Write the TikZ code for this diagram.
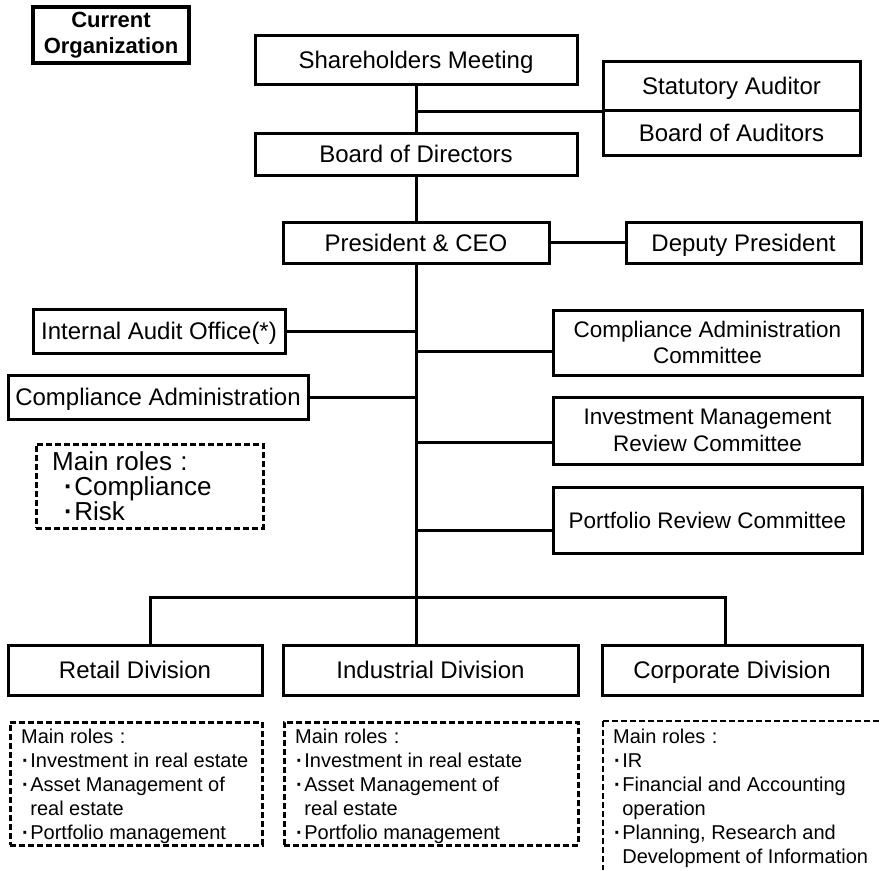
\documentclass[tikz,border=0pt]{standalone}
\usepackage{fontspec}
\setmainfont{Liberation Sans}
\usepackage{tikz}
\usetikzlibrary{calc}
\newcommand{\bul}{\hbox{\kern1pt{\bfseries·}\kern1.5pt}}
\newcommand{\ind}{\hphantom{\bul}}
\newcommand{\roles}{Main roles\kern0.32em:}

\begin{document}
\begin{tikzpicture}[x=1pt, y=-1pt,
  boxbase/.style={draw, line width=3pt, inner sep=0pt, align=center},
  orgbox/.style={boxbase, font=\fontsize{24}{27}\selectfont, text height=17.2pt, text depth=0pt},
  combox/.style={boxbase, font=\fontsize{22.5}{26.5}\selectfont},
  rolebox/.style={draw, line width=2.8pt, dash pattern=on 6pt off 3pt, inner sep=0pt},
  roletext/.style={align=left, inner xsep=12pt, inner ysep=8pt,
    font=\fontsize{20}{24}\selectfont},
  link/.style={line width=3pt}]

\useasboundingbox (0,0) rectangle (882,870);

  % title
\node[boxbase, line width=4.5pt, font=\bfseries\fontsize{22}{26}\selectfont,
  minimum width=156, minimum height=56] (curorg) at (111,35) {Current\\Organization};

  % top of the tree
\node[orgbox, minimum width=322, minimum height=49] (share) at (416,59.5) {Shareholders Meeting};
\node[orgbox, minimum width=257, minimum height=49] (stat) at (731.5,85.5) {Statutory Auditor};
\node[orgbox, minimum width=257, minimum height=45] (boa) at (731.5,132.5) {Board of Auditors};
\node[orgbox, minimum width=322, minimum height=42] (bod) at (416,154) {Board of Directors};
\node[orgbox, minimum width=266, minimum height=41] (ceo) at (416,242.5) {President \& CEO};
\node[orgbox, minimum width=235, minimum height=41] (deputy) at (743.5,242.5) {Deputy President};

  % offices and committees
\node[orgbox, minimum width=252, minimum height=44] (iao) at (159,331) {Internal Audit Office(*)};
\node[orgbox, minimum width=300, minimum height=44] (cadm) at (158,397) {Compliance Administration};
\node[combox, minimum width=309, minimum height=65] (cac) at (707.5,342.5) {Compliance Administration\\Committee};
\node[combox, minimum width=309, minimum height=67] (imrc) at (707.5,430.5) {Investment Management\\Review Committee};
\node[combox, minimum width=309, minimum height=66] (prc) at (707.5,520) {Portfolio Review Committee};

\node[rolebox, minimum width=227, minimum height=84, anchor=north west] (cadmroles) at (35,443) {};
\node[roletext, inner xsep=17pt, inner ysep=8pt, font=\fontsize{26}{25}\selectfont, anchor=north west]
  (cadmtxt) at (cadmroles.north west) {\roles\\\hspace*{11pt}\bul Compliance\\\hspace*{11pt}\bul Risk};

  % divisions
\node[orgbox, minimum width=254, minimum height=50] (retail) at (135,670) {Retail Division};
\node[orgbox, minimum width=295, minimum height=50] (ind) at (430.5,670) {Industrial Division};
\node[orgbox, minimum width=260, minimum height=50] (corp) at (732,670) {Corporate Division};

\node[rolebox, minimum width=252, minimum height=123, anchor=north west] (retailroles) at (9,721) {};
\node[roletext, anchor=north west] (retailtxt) at (retailroles.north west)
  {\roles\\\bul Investment in real estate\\\bul Asset Management of\\\ind real estate\\\bul Portfolio management};
\node[rolebox, minimum width=294, minimum height=123, anchor=north west] (indroles) at (283,721) {};
\node[roletext, anchor=north west] (indtxt) at (indroles.north west)
  {\roles\\\bul Investment in real estate\\\bul Asset Management of\\\ind real estate\\\bul Portfolio management};
\node[roletext, inner xsep=10pt, anchor=north west] (corptxt) at (603,721)
  {\roles\\\bul IR\\\bul Financial and Accounting\\\ind operation\\\bul Planning, Research and\\\ind Development of Information};
\draw[rolebox] (corptxt.north west) -- ++(279,0);
\draw[rolebox] (corptxt.north west) -- ++(0,149);

  % connectors
\coordinate (bus) at (416,597);
\coordinate (busl) at (150,597);
\coordinate (busr) at (725,597);
\draw[link] (share) -- (bod);
\draw[link] (share.south |- stat.south) -- (stat.south west);
\draw[link] (bod) -- (ceo);
\draw[link] (ceo) -- (deputy);
\draw[link] (ceo.south) -- (bus);
\draw[link] (iao.east) -- (iao.east -| bus);
\draw[link] (cadm.east) -- (cadm.east -| bus);
\foreach \c/\d in {cac/8.5, imrc/11.5, prc/10}
  \draw[link] ($(\c.west)+(0,\d)$) -| (bus);
\draw[link] (busl |- retail.north) |- (busr) -- (busr |- corp.north);
\draw[link] (bus) -- (bus |- ind.north);

\end{tikzpicture}
\end{document}
